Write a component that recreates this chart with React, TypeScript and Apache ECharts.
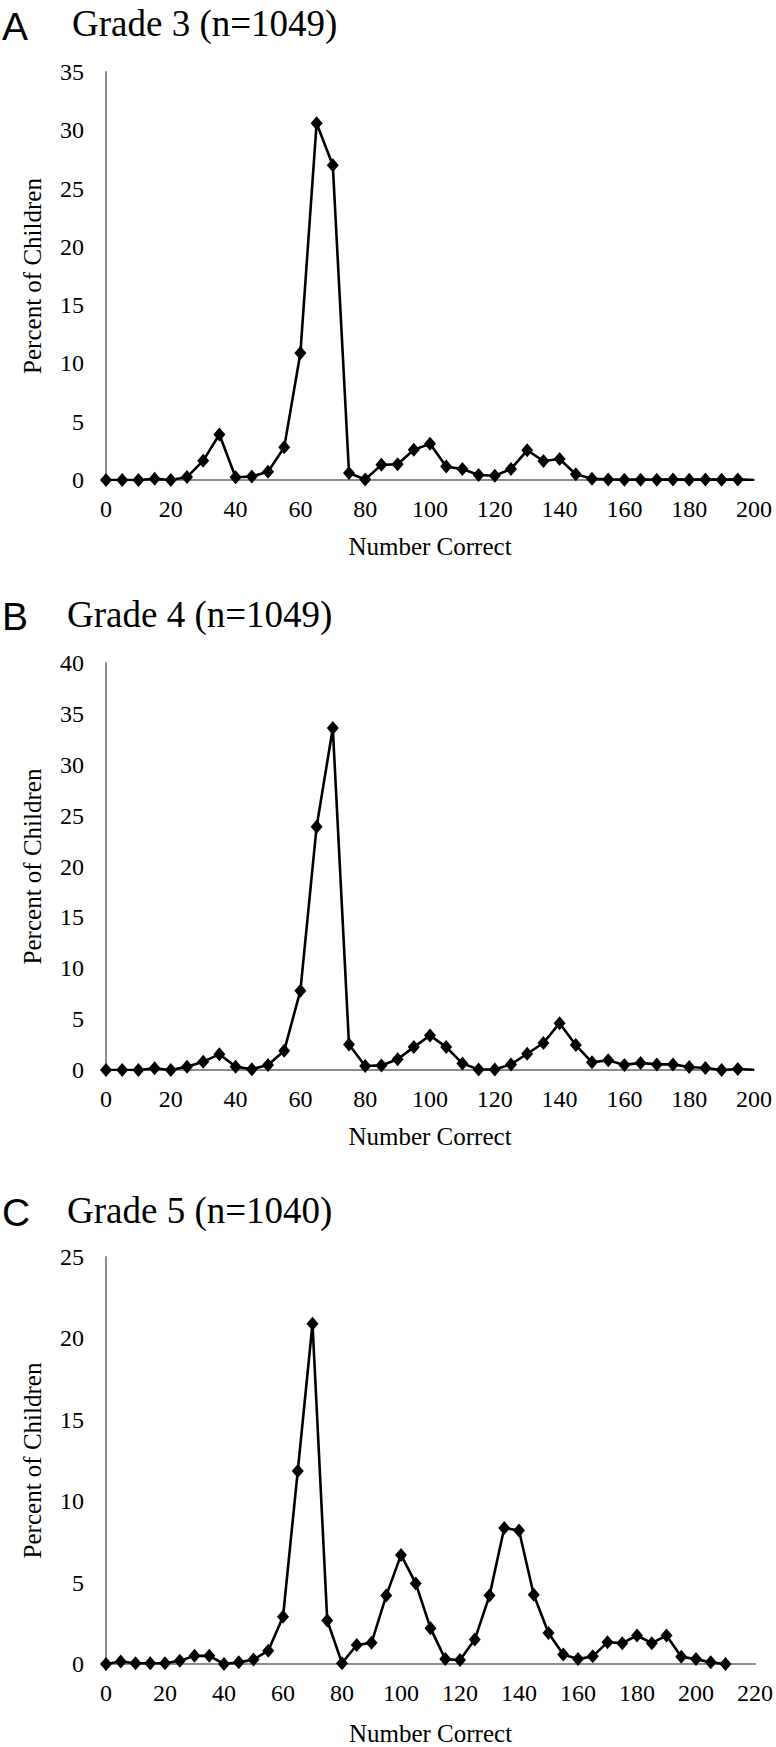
import React, { useEffect, useRef } from "react";
import * as echarts from "echarts";

// Number correct (x) positions
const xAB = [0, 5, 10, 15, 20, 25, 30, 35, 40, 45, 50, 55, 60, 65, 70, 75, 80, 85, 90, 95, 100, 105, 110, 115, 120, 125, 130, 135, 140, 145, 150, 155, 160, 165, 170, 175, 180, 185, 190, 195];
const xC = [0, 5, 10, 15, 20, 25, 30, 35, 40, 45, 50, 55, 60, 65, 70, 75, 80, 85, 90, 95, 100, 105, 110, 115, 120, 125, 130, 135, 140, 145, 150, 155, 160, 165, 170, 175, 180, 185, 190, 195, 200, 205, 210];

// Percent of children
const grade3 = [0, 0, 0, 0.1, 0, 0.25, 1.66, 3.9, 0.23, 0.3, 0.7, 2.8, 10.9, 30.6, 27.0, 0.6, 0.05, 1.3, 1.35, 2.6, 3.1, 1.15, 0.95, 0.43, 0.37, 0.95, 2.55, 1.63, 1.8, 0.49, 0.1, 0.05, 0.03, 0.03, 0.03, 0.05, 0.03, 0.05, 0.03, 0.05];
const grade4 = [0, 0, 0, 0.16, 0, 0.33, 0.82, 1.54, 0.33, 0.07, 0.5, 1.9, 7.8, 23.9, 33.6, 2.5, 0.4, 0.45, 1.05, 2.25, 3.4, 2.25, 0.65, 0.05, 0.05, 0.55, 1.6, 2.65, 4.6, 2.45, 0.75, 0.95, 0.5, 0.7, 0.55, 0.55, 0.3, 0.2, 0.0, 0.1];
const grade5 = [0, 0.15, 0.05, 0.05, 0.05, 0.2, 0.5, 0.5, 0, 0.1, 0.27, 0.82, 2.9, 11.85, 20.9, 2.67, 0.05, 1.17, 1.3, 4.2, 6.7, 4.95, 2.2, 0.3, 0.25, 1.5, 4.2, 8.35, 8.2, 4.25, 1.9, 0.58, 0.3, 0.47, 1.34, 1.28, 1.75, 1.28, 1.75, 0.45, 0.3, 0.1, 0.0];

// trailing line end (no marker) for panels A and B
const endA = [200, 0];
const endB = [200, 0.03];

const panelLetters = ["A", "B", "C"];
const panelTitles = ["Grade 3 (n=1049)", "Grade 4 (n=1049)", "Grade 5 (n=1040)"];
const yMax = [35, 40, 25];
const xMax = [200, 200, 220];

const SERIF = "Liberation Serif";
const SANS = "Liberation Sans";

export default function App() {
  const ref = useRef<HTMLDivElement>(null);

  useEffect(() => {
    if (!ref.current) return;
    const chart = echarts.init(ref.current, null, { renderer: "svg" });

    const grids = [
      { left: 106, top: 72, width: 648, height: 408 },
      { left: 106, top: 663, width: 648, height: 407 },
      { left: 106, top: 1257, width: 649, height: 407 },
    ];
    const xNameGaps = [54, 54, 57];

    const axisLineStyle = { color: "#8c8c8c", width: 2 };

    const xAxes = grids.map((_, i) => ({
      type: "value",
      gridIndex: i,
      min: 0,
      max: xMax[i],
      interval: 20,
      splitLine: { show: false },
      axisTick: { show: false },
      axisLine: { show: true, lineStyle: axisLineStyle },
      axisLabel: { color: "#000", fontFamily: SERIF, fontSize: 24, margin: 17 },
      name: "Number Correct",
      nameLocation: "middle",
      nameGap: xNameGaps[i],
      nameTextStyle: { color: "#000", fontFamily: SERIF, fontSize: 25, fontWeight: "normal" },
    }));

    const yAxes = grids.map((_, i) => ({
      type: "value",
      gridIndex: i,
      min: 0,
      max: yMax[i],
      interval: 5,
      splitLine: { show: false },
      axisTick: { show: false },
      axisLine: { show: true, lineStyle: axisLineStyle },
      axisLabel: { color: "#000", fontFamily: SERIF, fontSize: 24, margin: 22 },
      name: "Percent of Children",
      nameLocation: "middle",
      nameGap: 61,
      nameTextStyle: { color: "#000", fontFamily: SERIF, fontSize: 25, fontWeight: "normal" },
    }));

    const toPairs = (xs: number[], ys: number[]) => xs.map((x, k) => [x, ys[k]]);
    const dataA: any[] = toPairs(xAB, grade3);
    dataA.push({ value: endA, symbol: "none" });
    const dataB: any[] = toPairs(xAB, grade4);
    dataB.push({ value: endB, symbol: "none" });
    const dataC: any[] = toPairs(xC, grade5);

    const seriesData = [dataA, dataB, dataC];
    const series = seriesData.map((d, i) => ({
      type: "line",
      xAxisIndex: i,
      yAxisIndex: i,
      data: d,
      symbol: "diamond",
      symbolSize: [12, 14],
      lineStyle: { color: "#000", width: 2.6 },
      itemStyle: { color: "#000" },
      silent: true,
    }));

    const letterPos = [
      { x: 2, y: 26 },
      { x: 2, y: 616 },
      { x: 2, y: 1212 },
    ];
    const titlePos = [
      { x: 72, y: 23 },
      { x: 67, y: 614 },
      { x: 67, y: 1210 },
    ];

    const graphic: any[] = [];
    panelLetters.forEach((l, i) => {
      graphic.push({
        type: "text",
        x: letterPos[i].x,
        y: letterPos[i].y,
        style: { text: l, fill: "#000", fontFamily: SANS, fontSize: 39, verticalAlign: "middle" },
      });
      graphic.push({
        type: "text",
        x: titlePos[i].x,
        y: titlePos[i].y,
        style: { text: panelTitles[i], fill: "#000", fontFamily: SERIF, fontSize: 37, verticalAlign: "middle" },
      });
    });

    chart.setOption({
      animation: false,
      backgroundColor: "#fff",
      grid: grids,
      xAxis: xAxes,
      yAxis: yAxes,
      series,
      graphic,
    });

    return () => chart.dispose();
  }, []);

  return (
    <div
      ref={ref}
      style={{ position: "absolute", left: 0, top: 0, width: 776, height: 1747, background: "#fff" }}
    />
  );
}
